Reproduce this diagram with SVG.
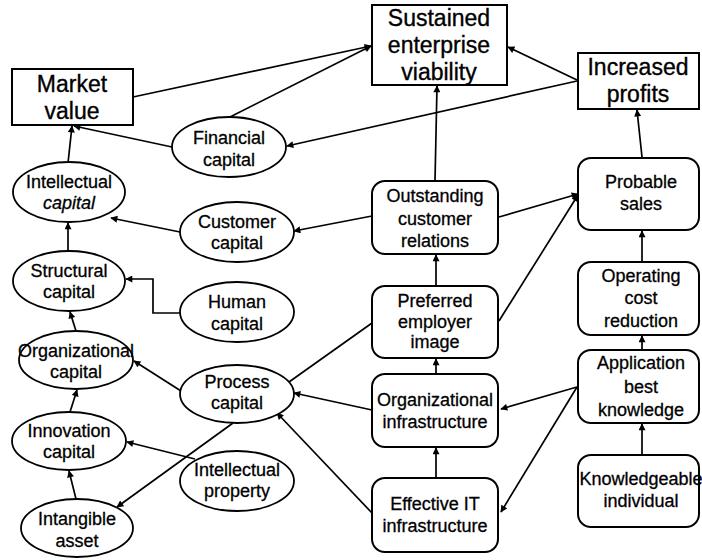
<svg xmlns="http://www.w3.org/2000/svg" width="702" height="560" viewBox="0 0 702 560">
  <style>
    .box { fill: #fff; stroke: #000; stroke-width: 2; }
    .oval { fill: #fff; stroke: #000; stroke-width: 1.8; }
    .big { font-family: "Liberation Sans", Arial, sans-serif; font-size: 23px; text-anchor: middle; fill: #000; stroke: #000; stroke-width: 0.35; }
    .lbl { font-family: "Liberation Sans", Arial, sans-serif; font-size: 18px; text-anchor: middle; fill: #000; stroke: #000; stroke-width: 0.3; }
    .it { font-style: italic; }
    .edge { fill: none; stroke: #000; stroke-width: 1.7; }
    .arr { marker-end: url(#head); }
  </style>
  <defs>
    <marker id="head" viewBox="0 0 10 10" refX="9" refY="5" markerWidth="8" markerHeight="7" markerUnits="userSpaceOnUse" orient="auto">
      <path d="M0,0 L10,5 L0,10 Z" fill="#000"/>
    </marker>
  </defs>

  <!-- connectors -->
  <g id="connectors">
    <line class="edge arr" x1="133" y1="97" x2="371" y2="46"/>
    <line class="edge arr" x1="230" y1="117" x2="371" y2="46"/>
    <line class="edge arr" x1="577" y1="80" x2="508" y2="47"/>
    <line class="edge arr" x1="577" y1="81" x2="287" y2="146"/>
    <line class="edge arr" x1="172" y1="147" x2="74" y2="126"/>
    <line class="edge arr" x1="68" y1="163" x2="72" y2="126"/>
    <line class="edge arr" x1="435" y1="181" x2="437" y2="86"/>
    <line class="edge arr" x1="642" y1="157" x2="637" y2="110"/>
    <line class="edge arr" x1="372" y1="216" x2="294" y2="231"/>
    <line class="edge arr" x1="180" y1="232" x2="111" y2="218"/>
    <line class="edge arr" x1="68" y1="251" x2="68" y2="223"/>
    <polyline class="edge arr" points="180,313 153,313 153,279 126,279"/>
    <line class="edge arr" x1="76" y1="331" x2="70" y2="312"/>
    <line class="edge arr" x1="181" y1="391" x2="134" y2="361"/>
    <line class="edge" x1="372" y1="323" x2="289" y2="382"/>
    <line class="edge arr" x1="372" y1="410" x2="294" y2="393"/>
    <line class="edge arr" x1="372" y1="513" x2="277" y2="413"/>
    <line class="edge arr" x1="233" y1="423" x2="117" y2="507"/>
    <line class="edge arr" x1="195" y1="459" x2="127" y2="442"/>
    <line class="edge arr" x1="76" y1="499" x2="69" y2="471"/>
    <line class="edge arr" x1="70" y1="412" x2="77" y2="390"/>
    <line class="edge arr" x1="436" y1="286" x2="436" y2="255"/>
    <line class="edge arr" x1="436" y1="374" x2="436" y2="359"/>
    <line class="edge arr" x1="436" y1="478" x2="436" y2="448"/>
    <line class="edge arr" x1="499" y1="217" x2="578" y2="194"/>
    <line class="edge arr" x1="499" y1="321" x2="578" y2="195"/>
    <line class="edge arr" x1="642" y1="262" x2="642" y2="231"/>
    <line class="edge arr" x1="642" y1="350" x2="642" y2="336"/>
    <line class="edge arr" x1="642" y1="455" x2="642" y2="424"/>
    <line class="edge arr" x1="577" y1="387" x2="501" y2="409"/>
    <line class="edge arr" x1="577" y1="387" x2="501" y2="512"/>
  </g>

  <!-- outcome boxes -->
  <g id="market-value">
    <rect class="box" x="12" y="69" width="121" height="56"/>
    <text class="big" x="72" y="92">Market</text>
    <text class="big" x="72" y="119">value</text>
  </g>
  <g id="sustained-viability">
    <rect class="box" x="372" y="5" width="135" height="80"/>
    <text class="big" x="439" y="26">Sustained</text>
    <text class="big" x="439" y="53">enterprise</text>
    <text class="big" x="439" y="80">viability</text>
  </g>
  <g id="increased-profits">
    <rect class="box" x="578" y="53" width="121" height="56"/>
    <text class="big" x="638" y="75">Increased</text>
    <text class="big" x="638" y="102">profits</text>
  </g>

  <!-- capital ellipses -->
  <g id="financial-capital">
    <ellipse class="oval" cx="229" cy="147" rx="57" ry="30"/>
    <text class="lbl" x="229" y="144">Financial</text>
    <text class="lbl" x="229" y="166">capital</text>
  </g>
  <g id="intellectual-capital">
    <ellipse class="oval" cx="69" cy="192" rx="56" ry="30"/>
    <text class="lbl" x="69" y="188">Intellectual</text>
    <text class="lbl it" x="69" y="209">capital</text>
  </g>
  <g id="customer-capital">
    <ellipse class="oval" cx="237" cy="232" rx="57" ry="30"/>
    <text class="lbl" x="237" y="228">Customer</text>
    <text class="lbl" x="237" y="249">capital</text>
  </g>
  <g id="structural-capital">
    <ellipse class="oval" cx="69" cy="281" rx="56" ry="30"/>
    <text class="lbl" x="69" y="277">Structural</text>
    <text class="lbl" x="69" y="298">capital</text>
  </g>
  <g id="human-capital">
    <ellipse class="oval" cx="237" cy="312" rx="57" ry="30"/>
    <text class="lbl" x="237" y="308">Human</text>
    <text class="lbl" x="237" y="330">capital</text>
  </g>
  <g id="organizational-capital">
    <ellipse class="oval" cx="76" cy="360" rx="57" ry="29"/>
    <text class="lbl" x="76" y="357">Organizational</text>
    <text class="lbl" x="76" y="378">capital</text>
  </g>
  <g id="process-capital">
    <ellipse class="oval" cx="237" cy="394" rx="57" ry="29"/>
    <text class="lbl" x="237" y="388">Process</text>
    <text class="lbl" x="237" y="409">capital</text>
  </g>
  <g id="innovation-capital">
    <ellipse class="oval" cx="69" cy="441" rx="57" ry="29"/>
    <text class="lbl" x="69" y="437">Innovation</text>
    <text class="lbl" x="69" y="458">capital</text>
  </g>
  <g id="intellectual-property">
    <ellipse class="oval" cx="237" cy="481" rx="57" ry="30"/>
    <text class="lbl" x="237" y="476">Intellectual</text>
    <text class="lbl" x="237" y="497">property</text>
  </g>
  <g id="intangible-asset">
    <ellipse class="oval" cx="77" cy="528" rx="56" ry="29"/>
    <text class="lbl" x="77" y="525">Intangible</text>
    <text class="lbl" x="77" y="547">asset</text>
  </g>

  <!-- enabler boxes, middle column -->
  <g id="outstanding-relations">
    <rect class="box" x="372" y="181" width="126" height="73" rx="13"/>
    <text class="lbl" x="435" y="202">Outstanding</text>
    <text class="lbl" x="435" y="225">customer</text>
    <text class="lbl" x="435" y="247">relations</text>
  </g>
  <g id="preferred-employer">
    <rect class="box" x="372" y="286" width="126" height="72" rx="13"/>
    <text class="lbl" x="435" y="307">Preferred</text>
    <text class="lbl" x="435" y="328">employer</text>
    <text class="lbl" x="435" y="348">image</text>
  </g>
  <g id="organizational-infrastructure">
    <rect class="box" x="372" y="374" width="126" height="73" rx="13"/>
    <text class="lbl" x="435" y="406">Organizational</text>
    <text class="lbl" x="435" y="428">infrastructure</text>
  </g>
  <g id="effective-it">
    <rect class="box" x="372" y="478" width="126" height="74" rx="13"/>
    <text class="lbl" x="435" y="510">Effective IT</text>
    <text class="lbl" x="435" y="532">infrastructure</text>
  </g>

  <!-- enabler boxes, right column -->
  <g id="probable-sales">
    <rect class="box" x="578" y="158" width="121" height="72" rx="13"/>
    <text class="lbl" x="641" y="188">Probable</text>
    <text class="lbl" x="641" y="210">sales</text>
  </g>
  <g id="operating-cost">
    <rect class="box" x="578" y="262" width="121" height="73" rx="13"/>
    <text class="lbl" x="641" y="282">Operating</text>
    <text class="lbl" x="641" y="304">cost</text>
    <text class="lbl" x="641" y="327">reduction</text>
  </g>
  <g id="application-knowledge">
    <rect class="box" x="578" y="350" width="121" height="73" rx="13"/>
    <text class="lbl" x="641" y="369">Application</text>
    <text class="lbl" x="641" y="393">best</text>
    <text class="lbl" x="641" y="416">knowledge</text>
  </g>
  <g id="knowledgeable-individual">
    <rect class="box" x="578" y="455" width="121" height="72" rx="13"/>
    <text class="lbl" x="641" y="485">Knowledgeable</text>
    <text class="lbl" x="641" y="507">individual</text>
  </g>
</svg>
